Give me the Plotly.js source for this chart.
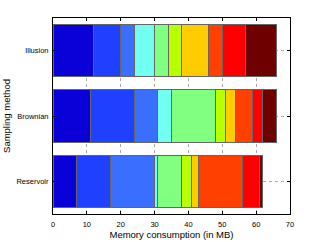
<!DOCTYPE html>
<html>
<head>
<meta charset="utf-8">
<script src="https://cdn.plot.ly/plotly-3.0.1.min.js"></script>
<style>html,body{margin:0;padding:0;background:#fff;}#chart{width:321px;height:242px;}</style>
</head>
<body>
<div id="chart"></div>
<script>
const methods = ['Illusion', 'Brownian', 'Reservoir'];
const segIllusion  = [12, 8, 4, 6, 4, 4, 8, 4, 7, 9];
const segBrownian  = [11, 13, 7, 4, 13, 3, 3, 5, 3, 4];
const segReservoir = [7, 10, 13, 1, 7, 3, 2, 13, 5, 1];
const segColors = ['#0a00d8', '#2040ff', '#3a6eff', '#70fff0', '#80ff80',
                   '#b8ff00', '#ffcc00', '#ff4000', '#ff0000', '#6e0000'];

const traces = segColors.map((c, i) => ({
  type: 'bar',
  orientation: 'h',
  y: methods,
  x: [segIllusion[i], segBrownian[i], segReservoir[i]],
  marker: {color: c, line: {color: '#666666', width: 1}},
  width: 0.8,
  hoverinfo: 'none',
  showlegend: false
}));

const font = {family: 'Liberation Sans, Arial, sans-serif', color: '#000'};
const layout = {
  width: 321, height: 242,
  margin: {l: 53, r: 31, t: 18, b: 28, pad: 0},
  barmode: 'stack',
  bargap: 0.2,
  paper_bgcolor: '#fff', plot_bgcolor: '#fff',
  font: Object.assign({size: 7.5}, font),
  xaxis: {
    range: [0, 70], dtick: 10, tick0: 0,
    showline: true, mirror: 'ticks', linecolor: '#000', linewidth: 1,
    ticks: 'inside', ticklen: 3, tickcolor: '#000',
    showgrid: true, gridcolor: '#aaaaaa', griddash: 'dot', gridwidth: 1,
    zeroline: false, layer: 'above traces',
    ticklabelstandoff: 3,
    tickfont: Object.assign({size: 7.5}, font),
    title: {text: 'Memory consumption (in MB)', font: Object.assign({size: 9.5}, font), standoff: 3}
  },
  yaxis: {
    type: 'category',
    categoryorder: 'array', categoryarray: ['Reservoir', 'Brownian', 'Illusion'],
    range: [-0.5, 2.5],
    showline: true, mirror: 'ticks', linecolor: '#000', linewidth: 1,
    ticks: 'inside', ticklen: 3, tickcolor: '#000',
    showgrid: true, gridcolor: '#aaaaaa', griddash: 'dot', gridwidth: 1,
    zeroline: false, layer: 'above traces',
    ticklabelstandoff: 2,
    tickfont: Object.assign({size: 7.5}, font),
    title: {text: 'Sampling method', font: Object.assign({size: 9.5}, font), standoff: 4}
  }
};
Plotly.newPlot('chart', traces, layout, {displayModeBar: false, staticPlot: true});
</script>
</body>
</html>
